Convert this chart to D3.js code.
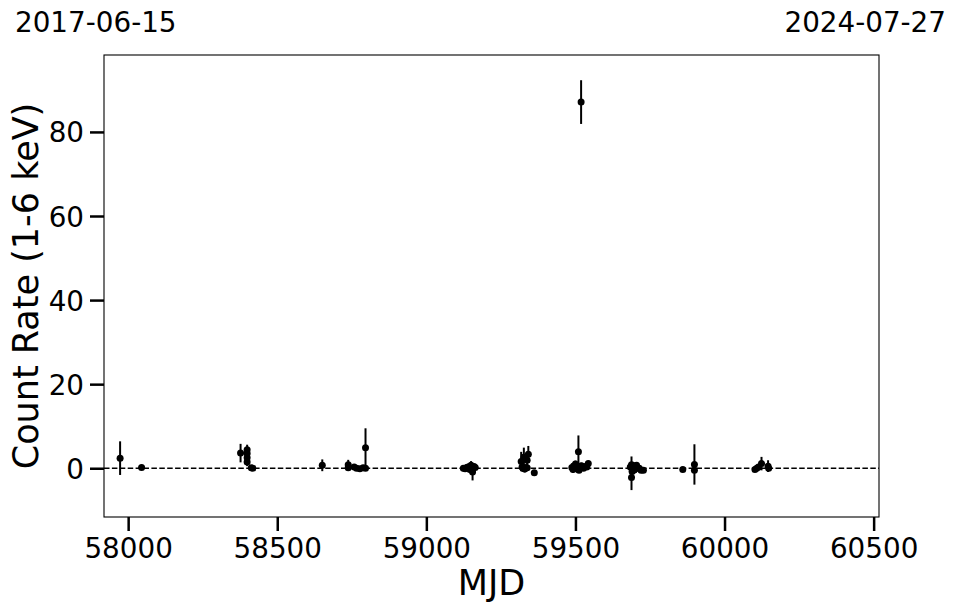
<!DOCTYPE html>
<html>
<head>
<meta charset="utf-8">
<script src="https://cdn.jsdelivr.net/npm/d3@7"></script>
<style>
  html, body { margin: 0; padding: 0; background: #fff; }
  svg text { font-family: "DejaVu Sans", sans-serif; fill: #000; }
</style>
</head>
<body>
<svg id="chart" width="957" height="613"></svg>
<script>
// ---- data ----
const mjd = [
  57973, 58045,
  58377, 58399, 58399, 58399, 58399, 58413, 58418,
  58651,
  58738, 58738, 58758, 58766, 58777, 58788, 58796, 58796,
  59124, 59130, 59140, 59150, 59155, 59157, 59160, 59146, 59164, 59135, 59152,
  59318, 59321, 59324, 59327, 59330, 59334, 59338, 59342, 59338, 59362,
  59488, 59492, 59497, 59500, 59510, 59505, 59512, 59516, 59519, 59522, 59527, 59543, 59538,
  59495, 59503, 59508, 59520, 59532,
  59684, 59688, 59688, 59692, 59697, 59702, 59708, 59714, 59720, 59728,
  59694, 59700, 59705, 59690,
  59860, 59899, 59899,
  60102, 60108, 60114, 60124, 60146, 60148
];
const rate = [
  2.4, 0.2,
  3.6, 4.4, 3.5, 2.5, 1.5, 0.1, 0.0,
  0.7,
  0.8, 0.1, 0.3, 0.0, -0.1, 0.1, 0.0, 4.9,
  0.0, -0.1, 0.3, 0.7, -0.9, 0.0, 0.4, -0.3, 0.2, 0.2, -0.4,
  1.6, 0.3, 0.0, 2.6, -0.2, 0.2, 1.9, 3.3, 0.1, -1.1,
  0.2, -0.3, 0.5, 1.0, 3.9, 0.0, -0.5, 0.3, 87.1, 0.2, 0.0, 1.1, 0.3,
  0.5, 0.4, -0.2, 0.6, 0.4,
  0.3, -2.2, 0.8, 0.0, -0.4, 0.5, 0.2, 0.0, -0.5, -0.5,
  0.6, -0.2, 0.7, -0.8,
  -0.3, 0.9, -0.5,
  -0.3, 0.0, 0.3, 1.1, 0.5, 0.0
];
const rateErr = [
  4.0, 0.5,
  2.2, 1.2, 1.5, 1.2, 1.0, 0.4, 0.3,
  1.4,
  1.2, 0.5, 0.4, 0.3, 0.3, 0.4, 0.3, 4.6,
  0.5, 0.6, 0.8, 1.0, 2.0, 0.8, 0.6, 0.7, 0.5, 0.6, 0.7,
  2.3, 1.0, 0.6, 2.3, 0.8, 0.5, 2.0, 2.0, 0.6, 0.6,
  1.0, 0.8, 1.2, 0.8, 3.9, 0.8, 0.6, 0.5, 5.2, 0.6, 0.5, 0.6, 0.5,
  0.8, 1.0, 0.9, 0.7, 0.5,
  0.9, 3.0, 2.0, 1.0, 0.8, 0.7, 0.5, 0.5, 0.5, 0.6,
  0.9, 0.8, 0.6, 1.2,
  0.4, 4.8, 0.6,
  0.5, 0.5, 0.6, 1.6, 1.4, 0.6
];
const xTicks = [58000, 58500, 59000, 59500, 60000, 60500];
const yTicks = [0, 20, 40, 60, 80];
const xDomain = [57919, 60518];      // 2017-06-15 .. 2024-07-27
const yDomain = [-11.6, 98.3];
const startDate = "2017-06-15";
const endDate = "2024-07-27";
const xLabel = "MJD";
const yLabel = "Count Rate (1-6 keV)";

// ---- layout ----
const L = 104, R = 879, T = 55, B = 517;
const svg = d3.select("#chart");
const x = d3.scaleLinear().domain(xDomain).range([L, R]);
const y = d3.scaleLinear().domain(yDomain).range([B, T]);

const pts = mjd.map((m, i) => ({ m, r: rate[i], e: rateErr[i] }));

// zero line
svg.append("line")
  .attr("x1", L).attr("x2", R)
  .attr("y1", y(0)).attr("y2", y(0))
  .attr("stroke", "#000").attr("stroke-width", 1.5)
  .attr("stroke-dasharray", "5.5,2.4");

svg.append("clipPath").attr("id", "clip")
  .append("rect").attr("x", L).attr("y", T).attr("width", R - L).attr("height", B - T);

const g = svg.append("g").attr("clip-path", "url(#clip)");
g.selectAll("line.err").data(pts).enter().append("line")
  .attr("class", "err")
  .attr("x1", d => x(d.m)).attr("x2", d => x(d.m))
  .attr("y1", d => y(d.r - d.e)).attr("y2", d => y(d.r + d.e))
  .attr("stroke", "#000").attr("stroke-width", 2);
g.selectAll("circle").data(pts).enter().append("circle")
  .attr("cx", d => x(d.m)).attr("cy", d => y(d.r))
  .attr("r", 3.5).attr("fill", "#000");

// frame
svg.append("rect").attr("x", L).attr("y", T).attr("width", R - L).attr("height", B - T)
  .attr("fill", "none").attr("stroke", "#000").attr("stroke-width", 1.1);

// axes
const xAxis = d3.axisBottom(x).tickValues(xTicks).tickSize(14).tickPadding(7).tickFormat(d3.format("d"));
const yAxis = d3.axisLeft(y).tickValues(yTicks).tickSize(14).tickPadding(6).tickFormat(d3.format("d"));
const gx = svg.append("g").attr("transform", `translate(0,${B})`).call(xAxis);
const gy = svg.append("g").attr("transform", `translate(${L},0)`).call(yAxis);
[gx, gy].forEach(a => {
  a.select(".domain").remove();
  a.selectAll(".tick line").attr("stroke", "#000").attr("stroke-width", 2.5);
  a.selectAll(".tick text").style("font-size", "27.8px").style("font-family", "'DejaVu Sans', sans-serif").attr("fill", "#000");
});
gx.selectAll(".tick text").attr("dy", "0.72em");
gy.selectAll(".tick text").attr("dy", "0.36em");

// labels
svg.append("text").attr("x", (L + R) / 2).attr("y", 595).attr("text-anchor", "middle")
  .style("font-size", "35px").text(xLabel);
svg.append("text").attr("transform", `translate(38,${(T + B) / 2}) rotate(-90)`)
  .attr("text-anchor", "middle").style("font-size", "35px").text(yLabel);
svg.append("text").attr("x", 15).attr("y", 32).style("font-size", "27.8px").text(startDate);
svg.append("text").attr("x", 946).attr("y", 32).attr("text-anchor", "end").style("font-size", "27.8px").text(endDate);
</script>
</body>
</html>
